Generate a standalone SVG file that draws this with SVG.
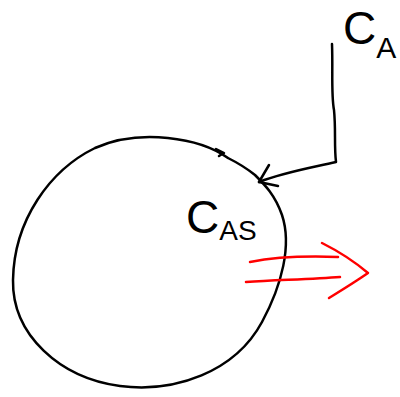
<svg xmlns="http://www.w3.org/2000/svg" width="400" height="397" viewBox="0 0 400 397">
<style>
.ink{fill:none;stroke:#000;stroke-width:2.5;stroke-linecap:round;stroke-linejoin:round}
.red{fill:none;stroke:#f00;stroke-width:2.5;stroke-linecap:round;stroke-linejoin:round}
.lbl{font-family:"Liberation Sans","DejaVu Sans",sans-serif;fill:#000}
</style>
<rect width="400" height="397" fill="#fff"/>
<g id="particle">
<path class="ink" d="M228,158 C200,138 140,128 95,148 C50,170 14,220 13,280 C12,335 60,378 120,386 C175,393 235,372 262,322 C282,285 292,245 282,215 C275,195 265,185 255,175 C245,167 238,163 228,158 M216,149 L224,153 L219,156"/>
<text class="lbl" x="186" y="233" font-size="46">C<tspan font-size="28" dy="7">AS</tspan></text>
</g>
<g id="bulk">
<text class="lbl" x="343" y="44" font-size="46">C<tspan font-size="30" dy="14">A</tspan></text>
</g>
<g id="connectors">
<path class="ink" d="M332,44 C333,70 331,95 334,110 C336,130 334,145 336,162 C310,168 285,172 259,182"/>
<path class="ink" d="M269,165 L259,182 L278,186"/>
<path class="red" d="M250,262 C275,257 310,256 338,257 M246,282 C280,280 315,279 340,277 M322,243 C340,252 355,262 368,273 C355,282 342,290 329,298"/>
</g>
</svg>
